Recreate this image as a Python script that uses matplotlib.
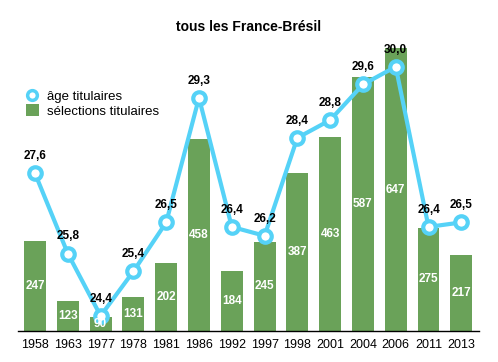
import matplotlib.pyplot as plt
from matplotlib.lines import Line2D
from matplotlib.patches import Patch

plt.rcParams["font.family"] = ["Liberation Sans", "DejaVu Sans"]

# ==============================
# DATA
# ==============================
years = ["1958", "1963", "1977", "1978", "1981", "1986", "1992",
         "1997", "1998", "2001", "2004", "2006", "2011", "2013"]
selections = [247, 123, 90, 131, 202, 458, 184, 245, 387, 463, 587, 647, 275, 217]
ages = [27.6, 25.8, 24.4, 25.4, 26.5, 29.3, 26.4, 26.2, 28.4, 28.8, 29.6, 30.0, 26.4, 26.5]

GREEN = "#6aa259"
CYAN = "#55d2f7"

# ==============================
# FIGURE
# ==============================
fig = plt.figure(figsize=(4.98, 3.62), dpi=100)
ax = fig.add_axes([18 / 498, 31 / 362, 461 / 498, 291 / 362])
ax2 = ax.twinx()

x = list(range(len(years)))

ax.bar(x, selections, width=0.67, color=GREEN, zorder=2)

ax2.plot(x, ages, color=CYAN, lw=3, marker="o", ms=9, mfc="white",
         mec=CYAN, mew=3, zorder=3)
for xi, a in zip(x, ages):
    ax2.annotate(f"{a:.1f}".replace(".", ","), (xi, a), xytext=(0, 8),
                 textcoords="offset points", ha="center", va="bottom",
                 fontsize=8.5, fontweight="bold", color="black")

# valeurs des barres au-dessus de la courbe
for xi, v in zip(x, selections):
    ax2.text(xi, (60.5 + v) / 2, str(v), transform=ax.transData,
             ha="center", va="center", color="white", fontsize=8.5,
             fontweight="bold", zorder=5)

ax.set_ylim(60.5, 663.6)
ax2.set_ylim(24.06, 30.6)
ax.set_xlim(-0.52, 13.54)

ax.set_xticks(x)
ax.set_xticklabels(years, fontsize=9)
ax.tick_params(axis="x", length=0, pad=6)
ax.set_yticks([])
ax2.set_yticks([])
for a in (ax, ax2):
    for s in ("top", "right", "left"):
        a.spines[s].set_visible(False)
ax2.spines["bottom"].set_visible(False)
ax.spines["bottom"].set_linewidth(1)

handles = [
    Line2D([], [], ls="none", marker="o", ms=7, mfc="white", mec=CYAN, mew=2.5),
    Patch(facecolor=GREEN),
]
ax2.legend(handles, ["âge titulaires", "sélections titulaires"],
           loc="upper left", bbox_to_anchor=(0.005, 0.848),
           frameon=False, fontsize=9.5, handlelength=1.0, handleheight=1.0,
           handletextpad=0.6, labelspacing=0.1, borderaxespad=0)

fig.text(0.5, 1 - 27 / 362, "tous les France-Brésil", ha="center",
         va="center", fontsize=10, fontweight="bold")

fig.savefig("out.png", dpi=100)
